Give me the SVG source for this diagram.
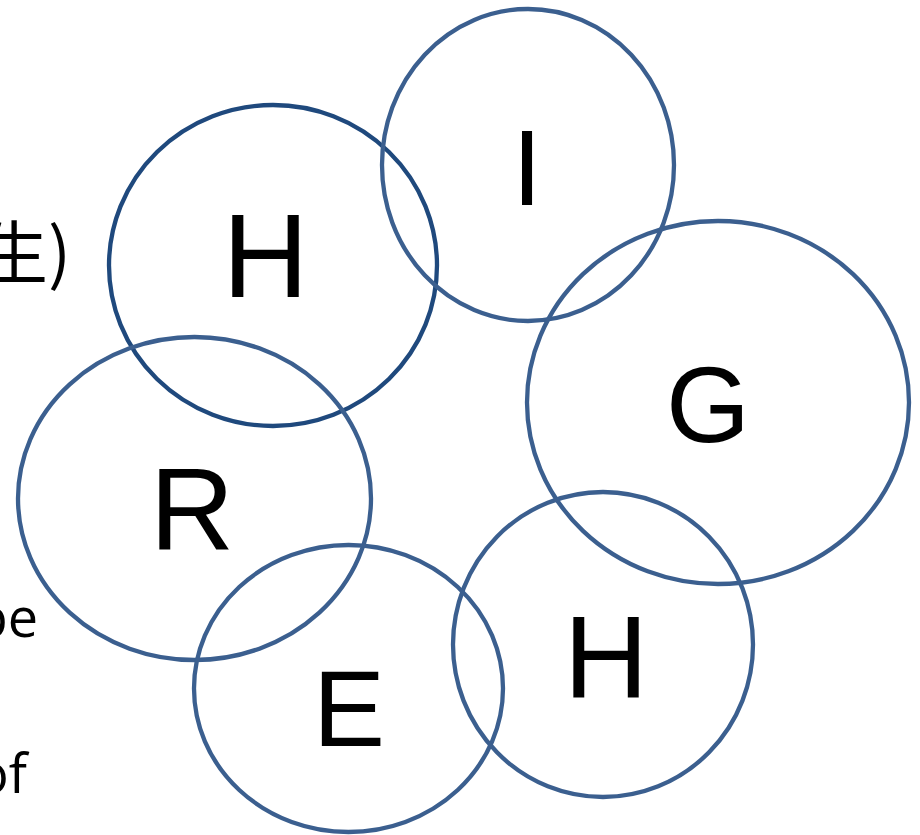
<svg xmlns="http://www.w3.org/2000/svg" width="920" height="835" viewBox="0 0 920 835">
<style>
.c{fill:none;stroke:#3B5F8F;stroke-width:4.3}
.d{fill:none;stroke:#1F497D;stroke-width:4.3}
.l{font-family:"Liberation Sans",Arial,sans-serif;fill:#000;text-anchor:middle}
.t{font-family:"Open Sans","Liberation Sans",sans-serif;fill:#000;text-anchor:end;font-size:54px}
.cjk{font-family:"Noto Sans CJK SC","Noto Sans",sans-serif;fill:#000;text-anchor:end;font-size:68px}
</style>
<rect width="920" height="835" fill="#fff"/>
<g id="left-text">
<text class="cjk" x="71" y="278">生)</text>
<text class="t" x="38" y="637">be</text>
<text class="t" x="27" y="793">of</text>
</g>
<g id="node-H1"><ellipse class="d" cx="273" cy="265.5" rx="164" ry="160.5"/><text class="l" x="265.5" y="297" font-size="119">H</text></g>
<g id="node-I"><ellipse class="c" cx="528" cy="165" rx="146" ry="156"/><text class="l" x="527" y="205" font-size="108">I</text></g>
<g id="node-G"><ellipse class="c" cx="718" cy="402.5" rx="191" ry="181.5"/><text class="l" x="708" y="442" font-size="108">G</text></g>
<g id="node-R"><ellipse class="c" cx="194.5" cy="498.5" rx="176.5" ry="161.5"/><text class="l" x="192" y="549" font-size="117">R</text></g>
<g id="node-E"><ellipse class="c" cx="348.5" cy="688.5" rx="154.5" ry="143.5"/><text class="l" x="349" y="746" font-size="108">E</text></g>
<g id="node-H2"><ellipse class="c" cx="603" cy="644.5" rx="150" ry="152.5"/><text class="l" x="606" y="697" font-size="117">H</text></g>
<g id="connectors"></g>
</svg>
